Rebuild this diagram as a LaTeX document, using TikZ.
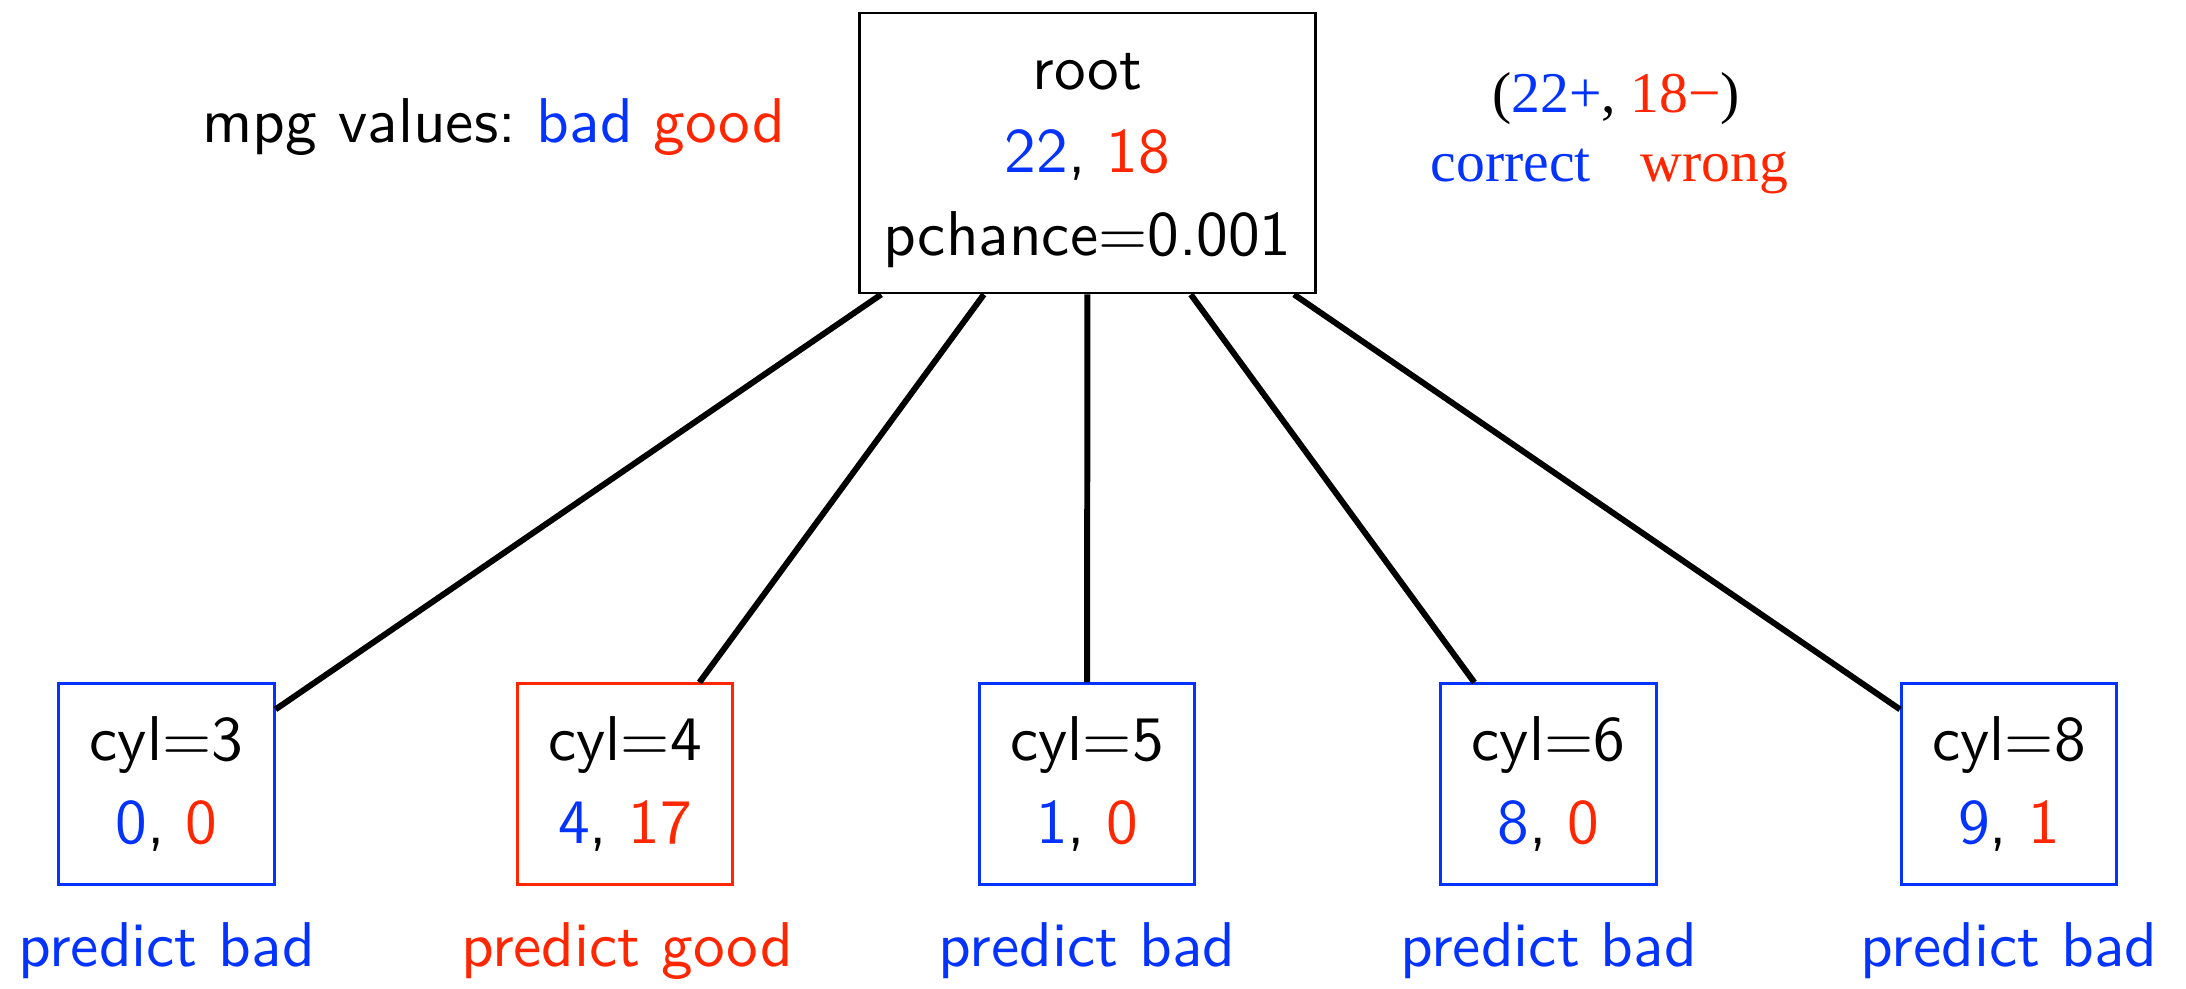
\documentclass[tikz,border=0pt]{standalone}
\usepackage{fontspec}
\newfontfamily\timesf{Liberation Serif}
\newfontfamily\lmss{lmsans10-regular.otf}
\definecolor{blu}{RGB}{4,51,255}
\definecolor{rd}{RGB}{255,38,0}
\frenchspacing
\begin{document}
\begin{tikzpicture}[x=0.01cm,y=-0.01cm,
  sf/.style={font=\lmss\fontsize{18}{23.5}\selectfont},
  rootbox/.style={sf,draw=black,line width=0.8pt,minimum width=4.55cm,minimum height=2.80cm,align=center,inner sep=0pt},
  leafbox/.style={sf,draw=#1,line width=0.85pt,minimum width=2.15cm,minimum height=2.00cm,align=center,inner sep=0pt},
  edge/.style={line width=1.7pt,black},
  lbl/.style={sf,anchor=base,inner sep=0pt},
  tm/.style={font=\timesf\fontsize{16.4}{20}\selectfont,anchor=base,inner sep=0pt}]
\useasboundingbox (0,0) rectangle (2186,988);

\node[rootbox] (root) at (1087.5,153) {\rule{0pt}{0.51cm}root\\{\color{blu}22}, {\color{rd}18}\\pchance=0.001};

\node[sf,anchor=base west,inner sep=0pt] (legend) at (202,143) {mpg values: {\color{blu}bad} {\color{rd}good}};

\node[tm] (counts) at (1616,113) {({\color{blu}22+}, {\color{rd}18\char"2212})};
\node[tm,anchor=base west,text=blu] (correct) at (1430,181) {correct};
\node[tm,anchor=base west,text=rd] (wrong) at (1640,181) {wrong};

\node[leafbox=blu] (c3) at (166.5,784) {cyl=3\\{\color{blu}0}, {\color{rd}0}};
\node[leafbox=rd]  (c4) at (625,784) {cyl=4\\{\color{blu}4}, {\color{rd}17}};
\node[leafbox=blu] (c5) at (1087,784) {cyl=5\\{\color{blu}1}, {\color{rd}0}};
\node[leafbox=blu] (c6) at (1548.5,784) {cyl=6\\{\color{blu}8}, {\color{rd}0}};
\node[leafbox=blu] (c8) at (2009,784) {cyl=8\\{\color{blu}9}, {\color{rd}1}};

\node[lbl,text=blu] (p3) at (166.5,966) {predict bad};
\node[lbl,text=rd]  (p4) at (627,966) {predict good};
\node[lbl,text=blu] (p5) at (1087,966) {predict bad};
\node[lbl,text=blu] (p6) at (1548.5,966) {predict bad};
\node[lbl,text=blu] (p8) at (2009,966) {predict bad};

\foreach \c in {c3,c4,c5,c6,c8} \draw[edge] (root) -- (\c);
\end{tikzpicture}
\end{document}
